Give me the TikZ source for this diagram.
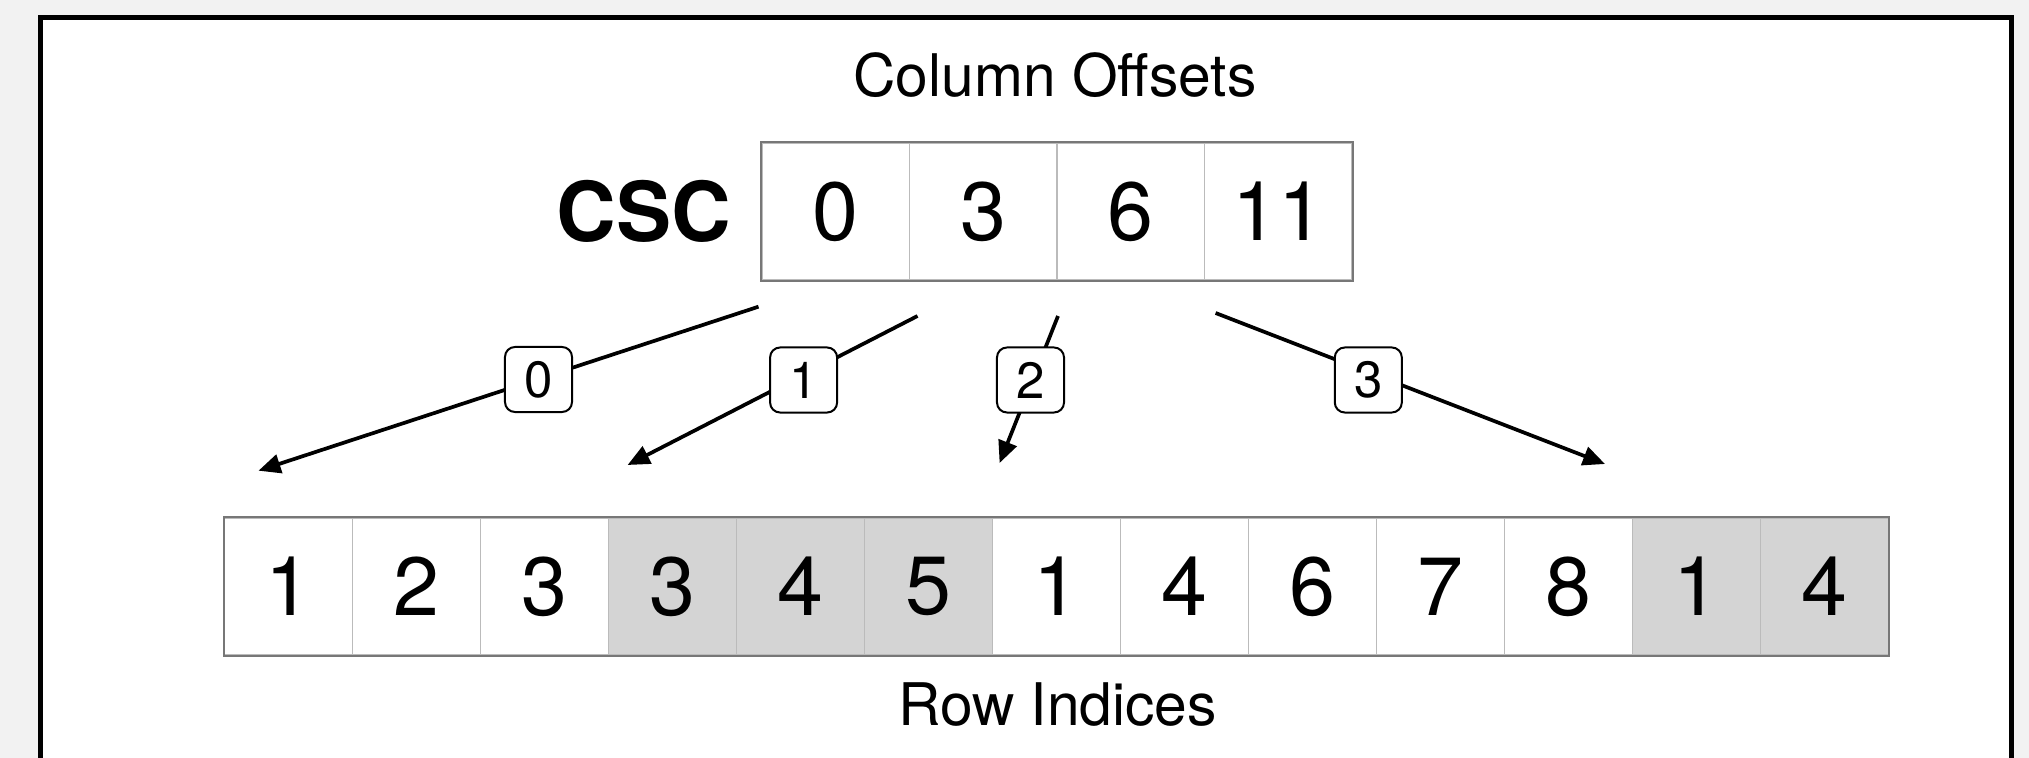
\documentclass[tikz,border=0pt]{standalone}
\usepackage{fontspec}
\setmainfont{TeX Gyre Heros}
\usetikzlibrary{arrows.meta}

\definecolor{pagebg}{HTML}{F2F2F2}
\definecolor{cellfill}{HTML}{D4D4D4}
\definecolor{cellrule}{HTML}{BBBBBB}
\definecolor{cellframe}{HTML}{777777}

\tikzset{
  topcell/.style={draw=cellrule, line width=0.015cm, minimum width=1.475cm,
    minimum height=1.37cm, inner sep=0pt, font=\fontsize{23.5}{27}\selectfont},
  botcell/.style={draw=cellrule, line width=0.015cm, minimum width=1.28cm,
    minimum height=1.37cm, inner sep=0pt, font=\fontsize{23.5}{27}\selectfont},
  shaded/.style={fill=cellfill},
  arrayframe/.style={draw=cellframe, line width=0.02cm},
  title/.style={anchor=base, font=\fontsize{16.7}{20}\selectfont},
  ptr/.style={line width=0.037cm, -{Triangle[length=0.22cm,width=0.19cm]}},
  tag/.style={draw, fill=white, line width=0.02cm, rounded corners=0.1cm,
    minimum width=0.67cm, minimum height=0.65cm, inner sep=0pt,
    font=\fontsize{14.5}{16}\selectfont},
}

\begin{document}
\begin{tikzpicture}[x=0.01cm, y=-0.01cm]
  % page and frame
  \fill[pagebg] (0,0) rectangle (2029,758);
  \useasboundingbox (0,0) rectangle (2029,758);
  \clip (0,0) rectangle (2029,758);
  \fill[white] (40.5,17.5) rectangle (2011.5,800);
  \draw[line width=0.045cm] (40.5,800) |- (2011.5,17.5) -- (2011.5,800);

  % column offsets array
  \node[title] (coltitle) at (1055,97) {Column Offsets};
  \node[font=\bfseries\fontsize{23.5}{27}\selectfont] (csc) at (644,211.5) {CSC};
  \foreach \v [count=\i from 0] in {0,3,6,11}
    \node[topcell] (t\i) at ({762+147.5*(\i+0.5)},211.5) {\v};
  \draw[arrayframe] (t0.north west) rectangle (t3.south east);

  % row indices array
  \foreach \v/\s [count=\i from 0] in {1/,2/,3/,3/shaded,4/shaded,5/shaded,1/,4/,6/,7/,8/,1/shaded,4/shaded}
    \node[botcell,\s] (b\i) at ({224.5+128*(\i+0.5)},586.5) {\v};
  \draw[arrayframe] (b0.north west) rectangle (b12.south east);
  \node[title] (rowtitle) at (1057.5,726) {Row Indices};

  % pointers from offsets into the row indices
  \coordinate (s0) at (758.5,306.7);  \coordinate (e0) at (258.5,470.7);
  \coordinate (s1) at (917.5,316);    \coordinate (e1) at (627.6,465);
  \coordinate (s2) at (1058,316);     \coordinate (e2) at (999.6,463);
  \coordinate (s3) at (1215.6,313);   \coordinate (e3) at (1605,464);
  \foreach \k in {0,1,2,3}
    \draw[ptr] (s\k) -- (e\k);

  \node[tag] (l0) at (538.5,379.5) {0};
  \node[tag] (l1) at (803.6,380) {1};
  \node[tag] (l2) at (1030.5,380) {2};
  \node[tag] (l3) at (1368.3,380) {3};
\end{tikzpicture}
\end{document}
